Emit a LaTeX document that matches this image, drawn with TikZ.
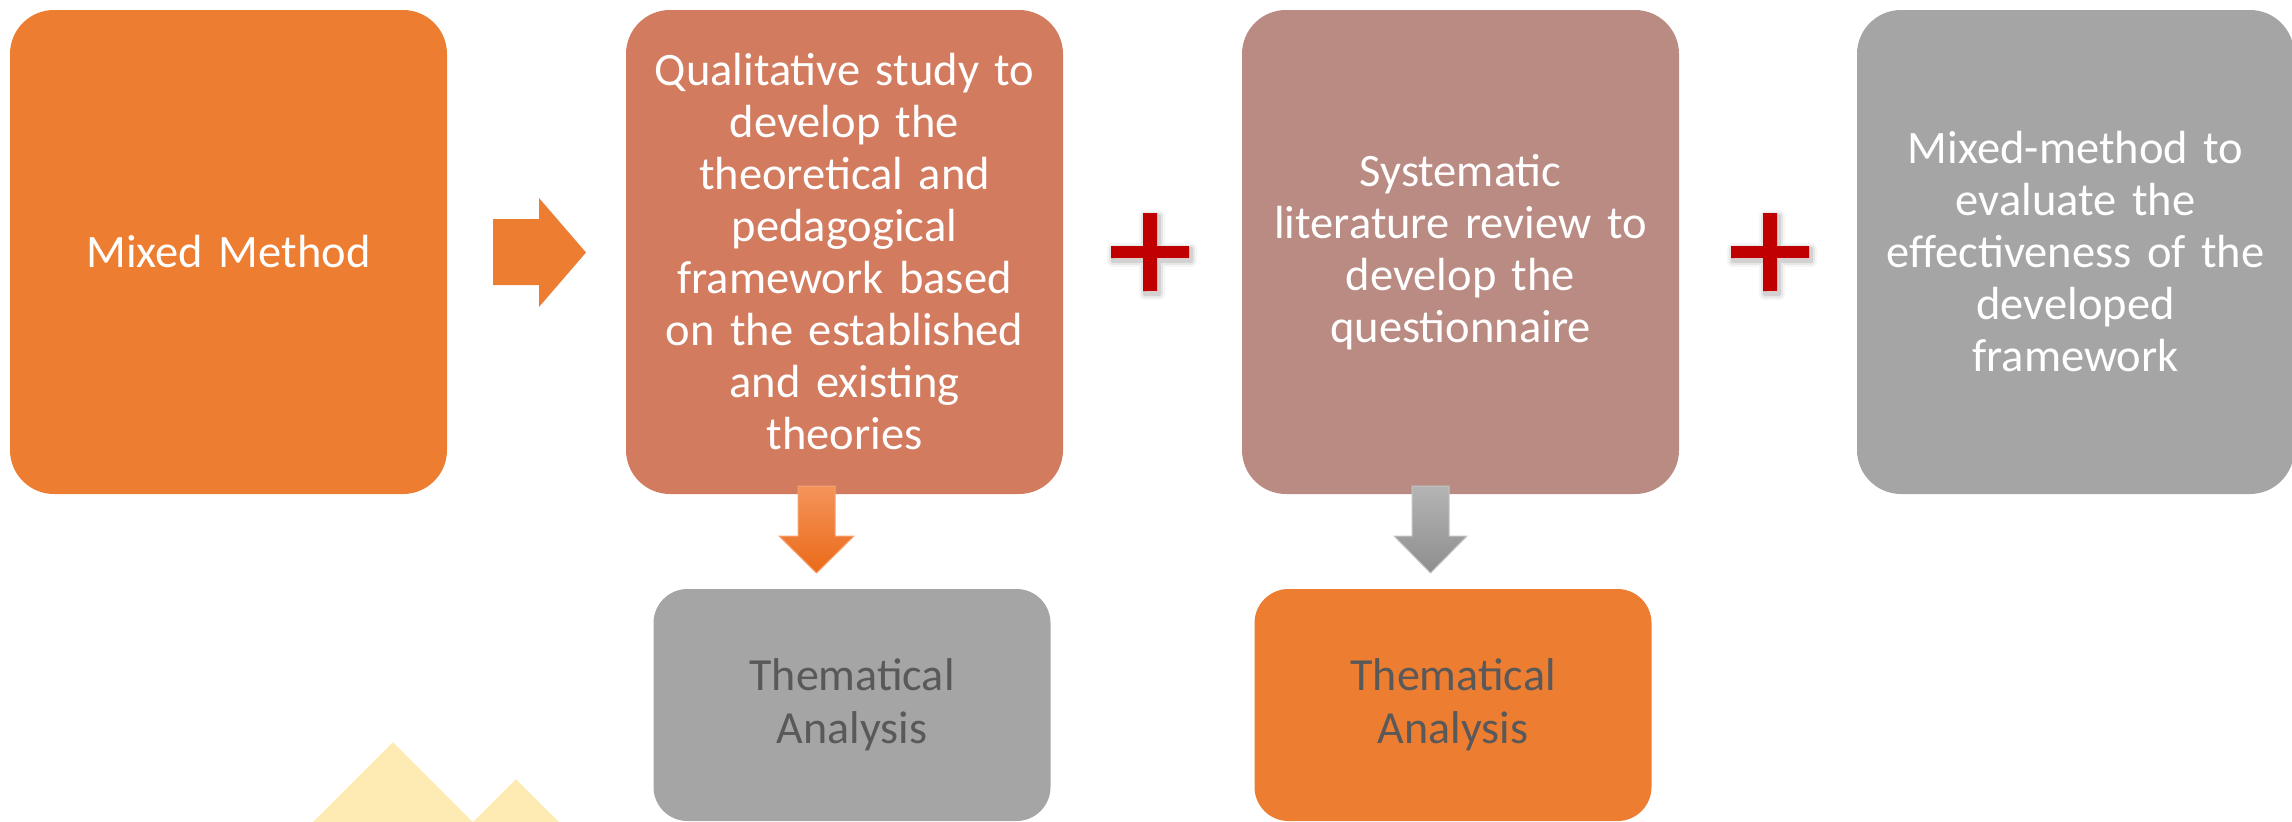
\documentclass[tikz,border=0pt]{standalone}
\usepackage{fontspec}
\setmainfont{Carlito}
\definecolor{orangeA}{HTML}{ED7D31}
\definecolor{terra}{HTML}{D27B5E}
\definecolor{rose}{HTML}{BA8B82}
\definecolor{grayA}{HTML}{A5A5A5}
\definecolor{txtgray}{HTML}{595959}
\definecolor{plusred}{HTML}{C00000}
\definecolor{sand}{HTML}{FEEBB4}
\definecolor{arrOtop}{HTML}{F5935A}
\definecolor{arrObot}{HTML}{EA6A18}
\definecolor{arrOedge}{HTML}{F6A472}
\definecolor{arrGtop}{HTML}{B4B4B4}
\definecolor{arrGbot}{HTML}{8E8E8E}
\definecolor{arrGedge}{HTML}{C4C4C4}
\tikzset{
  topbox/.style={rectangle, rounded corners=44pt, minimum width=437pt, minimum height=484pt,
    text width=420pt, align=center, text=white, inner sep=0pt,
    font=\fontsize{46.5}{52}\selectfont},
  botbox/.style={rectangle, rounded corners=34pt, minimum width=397pt, minimum height=232pt,
    text width=380pt, align=center, text=txtgray, inner sep=0pt,
    font=\fontsize{46}{53}\selectfont},
  redplus/.pic={
    \foreach \w/\o in {12/0.04,8/0.06,4/0.09}{
      \draw[black, opacity=\o, line width=\w pt, line join=round, shift={(2,3)}]
        (-7,-39) -- (7,-39) -- (7,-6) -- (39,-6) -- (39,6) -- (7,6) -- (7,39) -- (-7,39)
        -- (-7,6) -- (-39,6) -- (-39,-6) -- (-7,-6) -- cycle;
    }
    \fill[plusred] (-7,-39) -- (7,-39) -- (7,-6) -- (39,-6) -- (39,6) -- (7,6) -- (7,39) -- (-7,39)
        -- (-7,6) -- (-39,6) -- (-39,-6) -- (-7,-6) -- cycle;
  }
}
\begin{document}
\begin{tikzpicture}[x=1pt,y=-1pt]
\useasboundingbox (0,0) rectangle (2292,822);
\clip (0,0) rectangle (2292,822);

% decorative triangles
\fill[sand] (313,822) -- (393,742) -- (473,822) -- cycle;
\fill[sand] (473,822) -- (516,779) -- (559,822) -- cycle;

% top boxes
\node[topbox, fill=orangeA] (b1) at (228.5,252) {Mixed Method};
\node[topbox, fill=terra] (b2) at (844.5,252) {Qualitative study to\\ develop the\\ theoretical and\\ pedagogical\\ framework based\\ on the established\\ and existing\\ theories};
\node[topbox, fill=rose] (b3) at (1460.5,252) {Systematic\\ literature review to\\ develop the\\ questionnaire};
\node[topbox, fill=grayA] (b4) at (2075.5,252) {Mixed-method to\\ evaluate the\\ effectiveness of the\\ developed\\ framework};

% bottom boxes
\node[botbox, fill=grayA] (t1) at (852,705) {Thematical\\ Analysis};
\node[botbox, fill=orangeA] (t2) at (1453,705) {Thematical\\ Analysis};

% right block arrow
\fill[orangeA] (493,219) -- (539,219) -- (539,198) -- (586,252.5) -- (539,307) -- (539,285) -- (493,285) -- cycle;

% plus signs
\pic at (1150,252) {redplus};
\pic at (1770,252) {redplus};

% down block arrows
\shadedraw[top color=arrOtop, bottom color=arrObot, draw=arrOedge, line width=1pt]
  (798,486) -- (835,486) -- (835,536) -- (854,536) -- (816.5,573) -- (779,536) -- (798,536) -- cycle;
\shadedraw[top color=arrGtop, bottom color=arrGbot, draw=arrGedge, line width=1pt]
  (1412,486) -- (1449,486) -- (1449,536) -- (1467,536) -- (1430.5,573) -- (1394,536) -- (1412,536) -- cycle;
\end{tikzpicture}
\end{document}
